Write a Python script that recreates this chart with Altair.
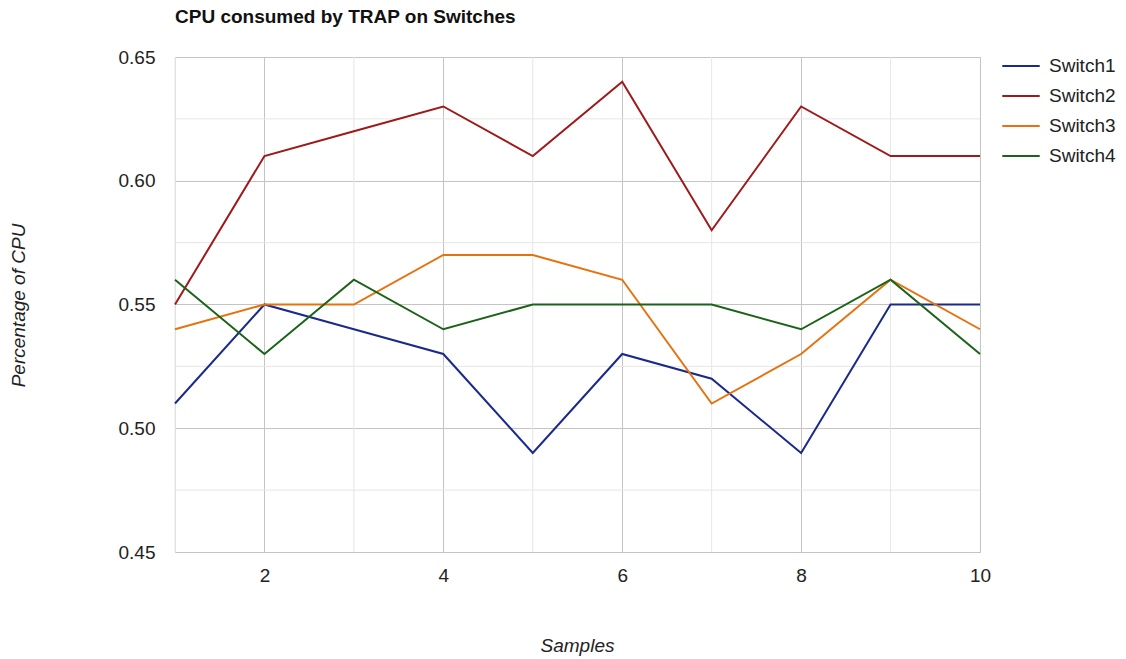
import altair as alt
import pandas as pd

samples = list(range(1, 11))
switch1 = [0.51, 0.55, 0.54, 0.53, 0.49, 0.53, 0.52, 0.49, 0.55, 0.55]
switch2 = [0.55, 0.61, 0.62, 0.63, 0.61, 0.64, 0.58, 0.63, 0.61, 0.61]
switch3 = [0.54, 0.55, 0.55, 0.57, 0.57, 0.56, 0.51, 0.53, 0.56, 0.54]
switch4 = [0.56, 0.53, 0.56, 0.54, 0.55, 0.55, 0.55, 0.54, 0.56, 0.53]

series_names = ["Switch1", "Switch2", "Switch3", "Switch4"]
series_colors = ["#1a2a8a", "#9e1a1a", "#e6720f", "#1b6318"]

x_major = [2, 4, 6, 8, 10]
x_minor = [1, 3, 5, 7, 9]
y_major = [0.45, 0.50, 0.55, 0.60, 0.65]
y_minor = [0.475, 0.525, 0.575, 0.625]

rows = []
for name, vals in zip(series_names, [switch1, switch2, switch3, switch4]):
    for s, v in zip(samples, vals):
        rows.append({"Sample": s, "CPU": v, "Series": name})
df = pd.DataFrame(rows)

FONT = "Liberation Sans"
FS = 19
x_scale = alt.Scale(domain=[1, 10], nice=False, zero=False)
y_scale = alt.Scale(domain=[0.45, 0.65], nice=False, zero=False)

minor_x = alt.Chart(pd.DataFrame({"v": x_minor})).mark_rule(
    color="#e6e6e6", strokeWidth=1
).encode(x=alt.X("v:Q", scale=x_scale))

minor_y = alt.Chart(pd.DataFrame({"v": y_minor})).mark_rule(
    color="#e6e6e6", strokeWidth=1
).encode(y=alt.Y("v:Q", scale=y_scale))

lines = alt.Chart(df).mark_line(strokeWidth=2).encode(
    x=alt.X(
        "Sample:Q",
        scale=x_scale,
        axis=alt.Axis(
            values=x_major,
            format="d",
            title="Samples",
            titleFont=FONT,
            titleFontStyle="italic",
            titleFontWeight="normal",
            titleFontSize=FS,
            titleColor="#222222",
            titleX=402,
            titleY=93,
            titleBaseline="middle",
            labelFont=FONT,
            labelFontSize=FS,
            labelColor="#222222",
            labelPadding=14,
            ticks=False,
            domain=False,
            gridColor="#c4c4c4",
            gridWidth=1,
            labelFlush=False,
        ),
    ),
    y=alt.Y(
        "CPU:Q",
        scale=y_scale,
        axis=alt.Axis(
            values=y_major,
            format=".2f",
            title="Percentage of CPU",
            titleFont=FONT,
            titleFontStyle="italic",
            titleFontWeight="normal",
            titleFontSize=FS,
            titleColor="#222222",
            titleAngle=-90,
            titleX=-157,
            titleY=248,
            titleAlign="center",
            titleBaseline="middle",
            labelFont=FONT,
            labelFontSize=FS,
            labelColor="#222222",
            labelPadding=20,
            ticks=False,
            domain=False,
            gridColor="#c4c4c4",
            gridWidth=1,
        ),
    ),
    color=alt.Color(
        "Series:N",
        scale=alt.Scale(domain=series_names, range=series_colors),
        legend=alt.Legend(
            title=None,
            orient="none",
            legendX=826,
            legendY=-6,
            symbolType="stroke",
            symbolSize=1400,
            symbolStrokeWidth=2,
            clipHeight=30,
            rowPadding=0,
            labelFont=FONT,
            labelFontSize=FS,
            labelColor="#222222",
            labelOffset=8,
        ),
    ),
)

chart = alt.layer(minor_x, minor_y, lines).properties(
    width=805,
    height=495,
    autosize=alt.AutoSizeParams(type="none"),
    padding={"left": 175, "top": 57, "right": 146, "bottom": 107},
    title=alt.TitleParams(
        "CPU consumed by TRAP on Switches",
        anchor="start",
        frame="group",
        font=FONT,
        fontSize=19,
        fontWeight="bold",
        color="#111111",
        offset=21,
    ),
).configure_view(stroke=None).configure(background="white")

chart.save("out.html", embed_options={"renderer": "svg", "actions": False})
